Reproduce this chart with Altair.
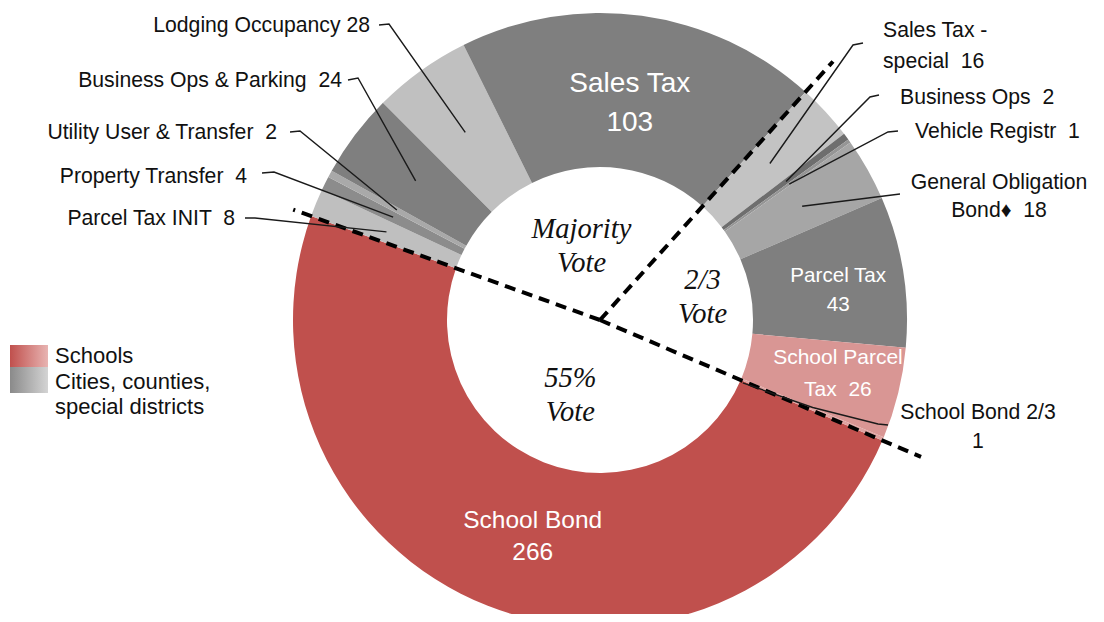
import math
import altair as alt
import pandas as pd

# ---------------- data ----------------
categories = ["School Bond", "Parcel Tax INIT", "Property Transfer", "Utility User & Transfer",
              "Business Ops & Parking", "Lodging Occupancy", "Sales Tax", "Sales Tax - special",
              "Business Ops", "Vehicle Registr", "General Obligation Bond", "Parcel Tax",
              "School Parcel Tax", "School Bond 2/3"]
counts = [266, 8, 4, 2, 24, 28, 103, 16, 2, 1, 18, 43, 26, 1]
vote_group = ["55%", "Majority", "Majority", "Majority", "Majority", "Majority", "Majority",
              "2/3", "2/3", "2/3", "2/3", "2/3", "2/3", "2/3"]
sector = ["Schools", "Cities", "Cities", "Cities", "Cities", "Cities", "Cities",
          "Cities", "Cities", "Cities", "Cities", "Cities", "Schools", "Schools"]
legend_labels = ["Schools", "Cities, counties,", "special districts"]
vote_titles = {"Majority": ["Majority", "Vote"], "2/3": ["2/3", "Vote"], "55%": ["55%", "Vote"]}

# ---------------- styles / layout ----------------
slice_colors = ["#c0504d", "#bfbfbf", "#8c8c8c", "#a9a9a9", "#7f7f7f", "#c0c0c0", "#7f7f7f",
                "#c3c3c3", "#6e6e6e", "#959595", "#a6a6a6", "#7f7f7f", "#d99694", "#dfa3a1"]
W, H = 1088, 606
OFF = 8
CX, CY = 600, 320
R_OUT, R_IN = 307, 153
START_DEG = 113.1
FONT = "Liberation Sans, Arial, sans-serif"
SERIF = "Liberation Serif, Times New Roman, serif"
OUT_SIZE = 21.2

total = sum(counts)
cum = [0]
for v in counts:
    cum.append(cum[-1] + v)


def ang(c):
    return START_DEG + c / total * 360.0


def mid(i):
    return ang(cum[i] + counts[i] / 2)


def polar(deg, r):
    a = math.radians(deg)
    return CX + r * math.sin(a) - OFF, CY - r * math.cos(a) - OFF


def px(x, y):
    return x - OFF, y - OFF


xs = alt.Scale(domain=[0, W], range=[0, W], nice=False, zero=False)
ys = alt.Scale(domain=[0, H], range=[0, H], nice=False, zero=False)

# ---------------- arcs ----------------
arc_df = pd.DataFrame({"category": categories, "value": counts, "order": list(range(len(counts))),
                       "color": slice_colors})
t0 = math.radians(START_DEG)
arcs = alt.Chart(arc_df).mark_arc(innerRadius=R_IN, outerRadius=R_OUT).encode(
    theta=alt.Theta("value:Q", stack=True, scale=alt.Scale(range=[t0, t0 + 2 * math.pi])),
    order=alt.Order("order:Q"),
    color=alt.Color("color:N", scale=None),
    x=alt.value(CX - OFF), y=alt.value(CY - OFF),
)

# ---------------- dashed group boundaries ----------------
dash_len = {"55%": 349, "Majority": 326, "2/3": 348}
rows = []
for i, g in enumerate(vote_group):
    if i == 0 or vote_group[i - 1] != g:
        a = ang(cum[i])
        x0, y0 = polar(a, 0)
        x1, y1 = polar(a, dash_len[g])
        rows.append({"x": x0, "y": y0, "x2": x1, "y2": y1})
dash_df = pd.DataFrame(rows)
dashes = alt.Chart(dash_df).mark_rule(color="black", strokeWidth=4, strokeDash=[11, 7]).encode(
    x=alt.X("x:Q", scale=xs, axis=None), y=alt.Y("y:Q", scale=ys, axis=None),
    x2="x2:Q", y2="y2:Q")

# ---------------- outside labels + leaders ----------------
outside = {
    "Lodging Occupancy": dict(lines=["Lodging Occupancy 28"], align="right", tx=370, ty=[26],
                              path=[(379, 25), (389, 24)], pol=[(0, 231)]),
    "Business Ops & Parking": dict(lines=["Business Ops & Parking \u00a024"], align="right", tx=342, ty=[81],
                                   path=[(348, 80), (358, 78)], pol=[(0, 231)]),
    "Utility User & Transfer": dict(lines=["Utility User & Transfer \u00a02"], align="right", tx=277, ty=[133],
                                    path=[(290, 132), (300, 131)], pol=[(0, 231)]),
    "Property Transfer": dict(lines=["Property Transfer \u00a04"], align="right", tx=247, ty=[177],
                              path=[(262, 173), (274, 172)], pol=[(0, 231)]),
    "Parcel Tax INIT": dict(lines=["Parcel Tax INIT \u00a08"], align="right", tx=235, ty=[219],
                            path=[(245, 218), (255, 218)], pol=[(0, 231)]),
    "Sales Tax - special": dict(lines=["Sales Tax -", "special \u00a016"], align="left", tx=883, ty=[31, 62],
                                path=[(863, 43), (853, 45)], pol=[(0, 231)]),
    "Business Ops": dict(lines=["Business Ops \u00a02"], align="left", tx=900, ty=[98],
                         path=[(879, 95), (870, 97)], pol=[(0, 232)]),
    "Vehicle Registr": dict(lines=["Vehicle Registr \u00a01"], align="left", tx=915, ty=[132],
                            path=[(898, 131), (888, 132)], pol=[(0, 233)]),
    "General Obligation Bond": dict(lines=["General Obligation", "Bond\u2666 \u00a018"], align="center", tx=999,
                                    ty=[183, 211], path=[(900, 194)], pol=[(0, 232)]),
    "School Bond 2/3": dict(lines=["School Bond 2/3", "1"], align="center", tx=978, ty=[413, 442],
                            path=[(888, 425), (878, 424)], pol=[(-0.4, 230), (1.0, 156)]),
}

lead_rows, text_rows = [], []
for name, spec in outside.items():
    i = categories.index(name)
    pts = [px(x, y) for x, y in spec["path"]] + [polar(mid(i) + da, r) for da, r in spec["pol"]]
    for k, (x, y) in enumerate(pts):
        lead_rows.append({"label": name, "seq": k, "x": x, "y": y})
    for line, ty in zip(spec["lines"], spec["ty"]):
        x, y = px(spec["tx"], ty)
        text_rows.append({"text": line, "x": x, "y": y, "align": spec["align"], "size": OUT_SIZE,
                          "color": "#111111"})

# legend text
for line, ty in zip(legend_labels, [356, 382, 407]):
    x, y = px(55, ty)
    text_rows.append({"text": line, "x": x, "y": y, "align": "left", "size": 22, "color": "#111111"})

# inside labels: (angle offset, radius, lines, size, line gap)
inside = {
    "Sales Tax": (0.0, 219, ["Sales Tax", "103"], 28, 39),
    "Parcel Tax": (2.15, 240, ["Parcel Tax", "43"], 20.6, 29),
    "School Parcel Tax": (-1.0, 244, ["School Parcel", "Tax \u00a026"], 21, 32),
    "School Bond": (-4.2, 227, ["School Bond", "266"], 24.5, 32),
}
for name, (da, r, lines, size, gap) in inside.items():
    i = categories.index(name)
    x, y = polar(mid(i) + da, r)
    n = len(lines)
    for k, line in enumerate(lines):
        text_rows.append({"text": line, "x": x, "y": y + (k - (n - 1) / 2) * gap, "align": "center",
                          "size": size, "color": "white"})

lead_df = pd.DataFrame(lead_rows)
leaders = alt.Chart(lead_df).mark_line(color="#1a1a1a", strokeWidth=1.4).encode(
    x=alt.X("x:Q", scale=xs, axis=None), y=alt.Y("y:Q", scale=ys, axis=None),
    detail="label:N", order="seq:Q")

text_df = pd.DataFrame(text_rows)
text_layers = []
for al in ["left", "right", "center"]:
    sub = text_df[text_df["align"] == al]
    text_layers.append(alt.Chart(sub).mark_text(align=al, baseline="middle", font=FONT).encode(
        x=alt.X("x:Q", scale=xs, axis=None), y=alt.Y("y:Q", scale=ys, axis=None),
        text="text:N", size=alt.Size("size:Q", scale=None), color=alt.Color("color:N", scale=None)))

# vote group titles (italic serif) at group mid-angles
vote_r = {"Majority": 76, "2/3": 105, "55%": 81}
vrows = []
for g, lines in vote_titles.items():
    idx = [i for i, v in enumerate(vote_group) if v == g]
    a0 = ang(cum[idx[0]])
    a1 = ang(cum[idx[-1] + 1])
    x, y = polar((a0 + a1) / 2, vote_r[g])
    for k, line in enumerate(lines):
        vrows.append({"text": line, "x": x, "y": y + (k - 0.5) * 34})
vote_df = pd.DataFrame(vrows)
votes = alt.Chart(vote_df).mark_text(align="center", baseline="middle", font=SERIF, fontStyle="italic",
                                     fontSize=28.5, color="#111111").encode(
    x=alt.X("x:Q", scale=xs, axis=None), y=alt.Y("y:Q", scale=ys, axis=None), text="text:N")

# legend swatches
def swatch(label, c0, c1, y0, y1):
    return alt.Chart(pd.DataFrame({"entry": [label]})).mark_rect(
        fill=alt.LinearGradient(gradient="linear", x1=0, x2=1, y1=0, y2=0,
                                stops=[alt.GradientStop(offset=0, color=c0),
                                       alt.GradientStop(offset=1, color=c1)])).encode(
        x=alt.value(10 - OFF), x2=alt.value(48 - OFF), y=alt.value(y0 - OFF), y2=alt.value(y1 - OFF))

sw1 = swatch("Schools", "#c0504d", "#e8b4b2", 345, 367)
sw2 = swatch("Cities", "#8a8a8a", "#d4d4d4", 367, 393)

chart = alt.layer(arcs, dashes, leaders, votes, sw1, sw2, *text_layers).properties(
    width=W, height=H, padding=0, autosize=alt.AutoSizeParams(type="none"),
    background="white").configure_view(stroke=None)

chart.save("out.html", embed_options={"renderer": "svg", "actions": False})
